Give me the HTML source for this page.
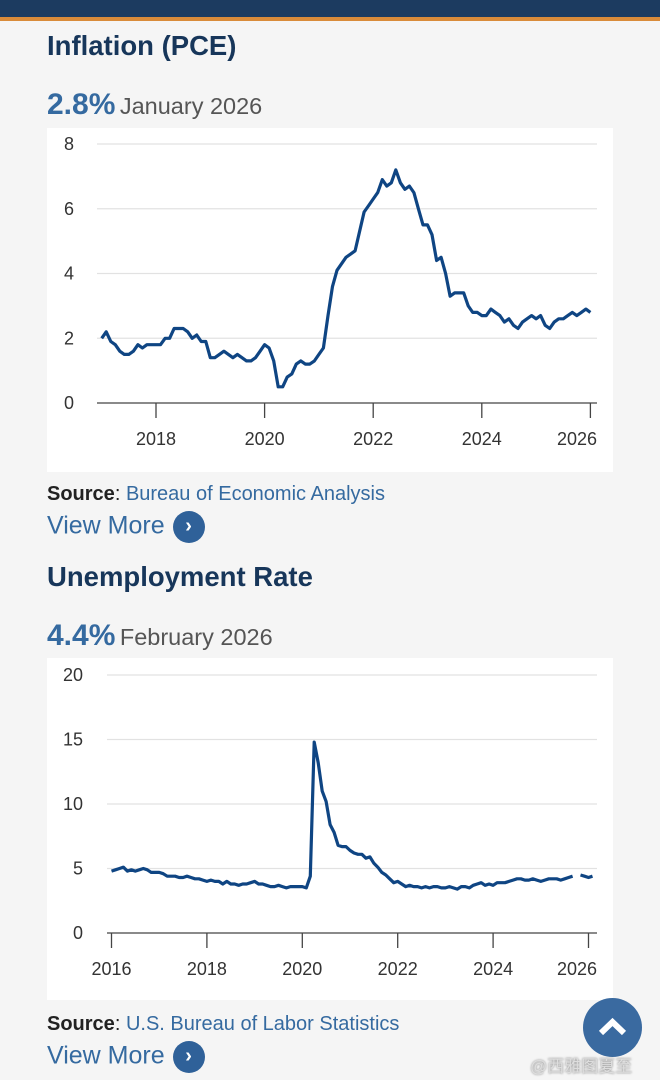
<!DOCTYPE html>
<html><head><meta charset="utf-8">
<style>
html,body{margin:0;padding:0;width:660px;height:1080px;overflow:hidden;background:#f5f5f5;font-family:"Liberation Sans",Arial,sans-serif;}
.abs{position:absolute;}
.title{color:#17365a;font-weight:bold;font-size:27.5px;}
.big{color:#356aa0;font-weight:bold;font-size:30px;}
.date{color:#555;font-size:23.5px;font-weight:normal;}
.src{font-size:20px;color:#222;}
.src b{font-weight:bold;}
.src span{color:#356aa0;}
.vm{color:#356aa0;font-size:25px;}
.circ{display:inline-block;width:32px;height:32px;border-radius:50%;background:#2f6199;color:#fff;text-align:center;line-height:31px;font-size:20px;font-weight:bold;vertical-align:middle;margin-left:8px;}
</style></head><body>
<div class="abs" style="left:0;top:0;width:660px;height:17px;background:#1c3b60;"></div>
<div class="abs" style="left:0;top:17px;width:660px;height:4px;background:#d98b3a;"></div>

<div class="abs title" style="left:47px;top:30px;">Inflation (PCE)</div>
<div class="abs" style="left:47px;top:88px;"><span class="big">2.8%</span> <span class="date">January 2026</span></div>
<div class="abs" style="left:47px;top:128px;width:566px;height:344px;background:#fff;"></div>
<div class="abs src" style="left:47px;top:483px;"><b>Source</b>: <span>Bureau of Economic Analysis</span></div>
<div class="abs vm" style="left:47px;top:511px;">View More<span class="circ">›</span></div>

<div class="abs title" style="left:47px;top:561px;">Unemployment Rate</div>
<div class="abs" style="left:47px;top:619px;"><span class="big">4.4%</span> <span class="date">February 2026</span></div>
<div class="abs" style="left:47px;top:658px;width:566px;height:342px;background:#fff;"></div>
<div class="abs src" style="left:47px;top:1013px;"><b>Source</b>: <span>U.S. Bureau of Labor Statistics</span></div>
<div class="abs vm" style="left:47px;top:1041px;">View More<span class="circ">›</span></div>

<svg class="abs" style="left:0;top:0" width="660" height="1080" id="svg"></svg>

<div class="abs" style="left:583px;top:998px;width:59px;height:59px;border-radius:50%;background:#3a6aa0;">
<svg width="59" height="59"><polyline points="18,35 29.5,24 41,35" fill="none" stroke="#fff" stroke-width="6"/></svg></div>
<div class="abs" style="left:530px;top:1052px;font-size:17px;color:#ddd;font-family:'Liberation Sans','Noto Sans CJK SC',sans-serif;text-shadow:0 0 2px #777;">@西雅图夏至</div>

<script>
const pceYears=[2018,2020,2022,2024,2026];
const pceTicks=[0,2,4,6,8];
const pceValues=[
2.0,2.2,1.9,1.8,1.6,1.5,1.5,1.6,1.8,1.7,1.8,1.8,
1.8,1.8,2.0,2.0,2.3,2.3,2.3,2.2,2.0,2.1,1.9,1.9,
1.4,1.4,1.5,1.6,1.5,1.4,1.5,1.4,1.3,1.3,1.4,1.6,
1.8,1.7,1.3,0.5,0.5,0.8,0.9,1.2,1.3,1.2,1.2,1.3,
1.5,1.7,2.7,3.6,4.1,4.3,4.5,4.6,4.7,5.3,5.9,6.1,
6.3,6.5,6.9,6.7,6.8,7.2,6.8,6.6,6.7,6.5,6.0,5.5,
5.5,5.2,4.4,4.5,4.0,3.3,3.4,3.4,3.4,3.0,2.8,2.8,
2.7,2.7,2.9,2.8,2.7,2.5,2.6,2.4,2.3,2.5,2.6,2.7,
2.6,2.7,2.4,2.3,2.5,2.6,2.6,2.7,2.8,2.7,2.8,2.9,
2.8];
const pceStart=2017;
const urYears=[2016,2018,2020,2022,2024,2026];
const urTicks=[0,5,10,15,20];
const urValues=[
4.8,4.9,5.0,5.1,4.8,4.9,4.8,4.9,5.0,4.9,4.7,4.7,
4.7,4.6,4.4,4.4,4.4,4.3,4.3,4.4,4.3,4.2,4.2,4.1,
4.0,4.1,4.0,4.0,3.8,4.0,3.8,3.8,3.7,3.8,3.8,3.9,
4.0,3.8,3.8,3.7,3.6,3.6,3.7,3.6,3.5,3.6,3.6,3.6,
3.6,3.5,4.4,14.8,13.2,11.0,10.2,8.4,7.8,6.8,6.7,6.7,
6.4,6.2,6.1,6.1,5.8,5.9,5.4,5.1,4.7,4.5,4.2,3.9,
4.0,3.8,3.6,3.7,3.6,3.6,3.5,3.6,3.5,3.6,3.6,3.5,
3.5,3.6,3.5,3.4,3.6,3.6,3.5,3.7,3.8,3.9,3.7,3.8,
3.7,3.9,3.9,3.9,4.0,4.1,4.2,4.2,4.1,4.1,4.2,4.1,
4.0,4.1,4.2,4.2,4.2,4.1,4.2,4.3,4.4,null,4.5,4.4,
4.3,4.4];
const urStart=2016;

const svg=document.getElementById('svg');
const NS='http://www.w3.org/2000/svg';
function mk(t,a){const e=document.createElementNS(NS,t);for(const k in a)e.setAttribute(k,a[k]);svg.appendChild(e);return e;}

function chart(prefix,cfg,ticks,years,values,start){
  const X=t=>cfg.x0+(t-cfg.t0)*cfg.pxYear;
  const Yv=v=>cfg.y0+(cfg.y1-cfg.y0)*v/ticks[ticks.length-1];
  ticks.forEach(v=>{
    if(v>0){const g=mk('line',{x1:cfg.gx0,x2:cfg.gx1,y1:Yv(v),y2:Yv(v),stroke:'#e2e2e2','stroke-width':1.3});
    
    }
    const t=mk('text',{x:cfg.lx,y:Yv(v)+6,'text-anchor':'end','font-size':18,fill:'#333','font-family':'Liberation Sans, sans-serif'});
    t.textContent=v;
    
    
  });
  const ax=mk('line',{x1:cfg.gx0,x2:cfg.gx1,y1:cfg.y0,y2:cfg.y0,stroke:'#444','stroke-width':1.3});
  
  
  years.forEach((yr,i)=>{
    const x=X(yr);
    const tk=mk('line',{x1:x,x2:x,y1:cfg.y0,y2:cfg.y0+15,stroke:'#444','stroke-width':1.3});
    
    
    const last=i===years.length-1;
    const t=mk('text',{x:last?cfg.gx1:x,y:cfg.y0+42,'text-anchor':last?'end':'middle','font-size':18,fill:'#333','font-family':'Liberation Sans, sans-serif'});
    t.textContent=yr;
    
    
  });
  let segs=[],cur=[];
  values.forEach((v,i)=>{
    if(v===null){if(cur.length)segs.push(cur);cur=[];return;}
    cur.push((X(start+i/12)).toFixed(1)+','+Yv(v).toFixed(1));
  });
  if(cur.length)segs.push(cur);
  segs.forEach(s=>{
    const p=mk('polyline',{points:s.join(' '),fill:'none',stroke:'#0f4583','stroke-width':3.2,'stroke-linejoin':'round'});
    
    
  });
}
chart('inflation',{x0:156,t0:2018,pxYear:54.3,y0:403,y1:144,gx0:97,gx1:597,lx:74},pceTicks,pceYears,pceValues,pceStart);
chart('unemployment',{x0:111.5,t0:2016,pxYear:47.7,y0:933,y1:675,gx0:107,gx1:597,lx:83},urTicks,urYears,urValues,urStart);
</script>
</body></html>
